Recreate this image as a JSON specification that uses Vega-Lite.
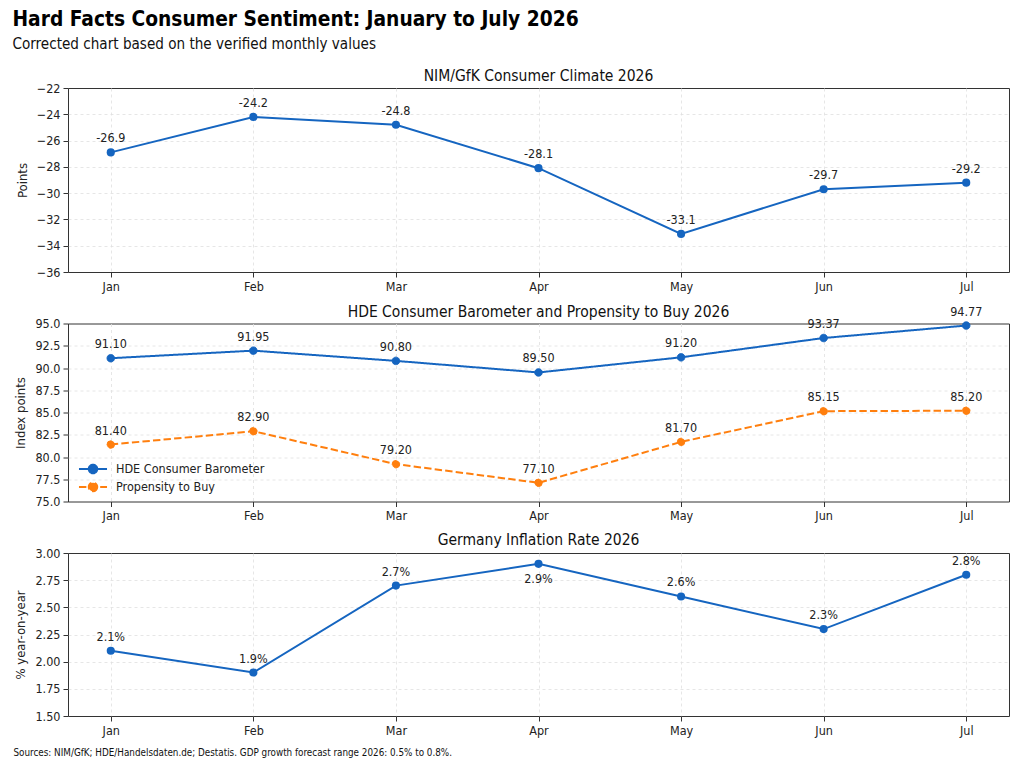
{
  "$schema": "https://vega.github.io/schema/vega-lite/v6.json",
  "background": "white",
  "padding": {"left": 12, "top": 9, "right": 10, "bottom": 5},
  "title": {
    "text": "Hard Facts Consumer Sentiment: January to July 2026",
    "subtitle": "Corrected chart based on the verified monthly values",
    "anchor": "start",
    "font": "DejaVu Sans Condensed",
    "fontSize": 20.75,
    "fontWeight": "bold",
    "color": "#000",
    "subtitleFont": "DejaVu Sans Condensed",
    "subtitleFontSize": 15.1,
    "subtitleColor": "#111",
    "subtitlePadding": 6,
    "offset": 15
  },
  "datasets": {
    "climate": [
      {"month": "Jan", "value": -26.9, "label": "-26.9"},
      {"month": "Feb", "value": -24.2, "label": "-24.2"},
      {"month": "Mar", "value": -24.8, "label": "-24.8"},
      {"month": "Apr", "value": -28.1, "label": "-28.1"},
      {"month": "May", "value": -33.1, "label": "-33.1"},
      {"month": "Jun", "value": -29.7, "label": "-29.7"},
      {"month": "Jul", "value": -29.2, "label": "-29.2"}
    ],
    "hde": [
      {"month": "Jan", "series": "HDE Consumer Barometer", "value": 91.10},
      {"month": "Feb", "series": "HDE Consumer Barometer", "value": 91.95},
      {"month": "Mar", "series": "HDE Consumer Barometer", "value": 90.80},
      {"month": "Apr", "series": "HDE Consumer Barometer", "value": 89.50},
      {"month": "May", "series": "HDE Consumer Barometer", "value": 91.20},
      {"month": "Jun", "series": "HDE Consumer Barometer", "value": 93.37},
      {"month": "Jul", "series": "HDE Consumer Barometer", "value": 94.77},
      {"month": "Jan", "series": "Propensity to Buy", "value": 81.40},
      {"month": "Feb", "series": "Propensity to Buy", "value": 82.90},
      {"month": "Mar", "series": "Propensity to Buy", "value": 79.20},
      {"month": "Apr", "series": "Propensity to Buy", "value": 77.10},
      {"month": "May", "series": "Propensity to Buy", "value": 81.70},
      {"month": "Jun", "series": "Propensity to Buy", "value": 85.15},
      {"month": "Jul", "series": "Propensity to Buy", "value": 85.20}
    ],
    "inflation": [
      {"month": "Jan", "value": 2.1, "label": "2.1%"},
      {"month": "Feb", "value": 1.9, "label": "1.9%"},
      {"month": "Mar", "value": 2.7, "label": "2.7%"},
      {"month": "Apr", "value": 2.9, "label": "2.9%"},
      {"month": "May", "value": 2.6, "label": "2.6%"},
      {"month": "Jun", "value": 2.3, "label": "2.3%"},
      {"month": "Jul", "value": 2.8, "label": "2.8%"}
    ]
  },
  "columns": 1,
  "bounds": "flush",
  "spacing": 51.5,
  "concat": [
    {
      "width": 941,
      "height": 184,
      "data": {"name": "climate"},
      "title": {"text": "NIM/GfK Consumer Climate 2026", "anchor": "middle", "dy": 8},
      "encoding": {
        "x": {
          "field": "month", "type": "ordinal",
          "sort": ["Jan", "Feb", "Mar", "Apr", "May", "Jun", "Jul"],
          "scale": {"type": "point", "padding": 0.3},
          "axis": {"title": null, "labelAngle": 0}
        },
        "y": {
          "field": "value", "type": "quantitative",
          "scale": {"domain": [-36, -22], "nice": false},
          "axis": {
            "title": "Points",
            "values": [-36, -34, -32, -30, -28, -26, -24, -22],
            "gridOpacity": {"condition": {"test": "datum.value <= -36 || datum.value >= -22", "value": 0}, "value": 1}
          }
        }
      },
      "layer": [
        {"mark": {"type": "line", "color": "#1565c0", "strokeWidth": 2}, "encoding": {}},
        {"mark": {"type": "circle", "color": "#1565c0", "size": 66, "opacity": 1}},
        {
          "mark": {"type": "text", "dy": -14, "fontSize": 12.5, "color": "#222"},
          "encoding": {"text": {"field": "label"}}
        }
      ]
    },
    {
      "width": 941,
      "height": 178,
      "data": {"name": "hde"},
      "title": {"text": "HDE Consumer Barometer and Propensity to Buy 2026", "anchor": "middle", "dy": 21},
      "encoding": {
        "x": {
          "field": "month", "type": "ordinal",
          "sort": ["Jan", "Feb", "Mar", "Apr", "May", "Jun", "Jul"],
          "scale": {"type": "point", "padding": 0.3},
          "axis": {"title": null, "labelAngle": 0}
        },
        "y": {
          "field": "value", "type": "quantitative",
          "scale": {"domain": [75, 95], "nice": false},
          "axis": {
            "title": "Index points", "format": ".1f",
            "values": [75, 77.5, 80, 82.5, 85, 87.5, 90, 92.5, 95],
            "gridOpacity": {"condition": {"test": "datum.value <= 75 || datum.value >= 95", "value": 0}, "value": 1}
          }
        }
      },
      "layer": [
        {
          "mark": {"type": "point", "shape": "circle", "size": 56, "strokeWidth": 1, "opacity": 1},
          "encoding": {
            "fill": {
              "field": "series", "type": "nominal", "title": null,
              "scale": {"domain": ["HDE Consumer Barometer", "Propensity to Buy"], "range": ["#1565c0", "#ff7f0e"]},
              "legend": {
                "orient": "none", "legendX": 15.5, "legendY": 371.5,
                "symbolType": "M-1.65,0H1.65M0.5,0A0.5,0.5 0 1,1 -0.5,0A0.5,0.5 0 1,1 0.5,0Z",
                "symbolSize": 289, "symbolStrokeWidth": 2, "labelOffset": 13.5,
                "labelFontSize": 12.5, "labelColor": "#222", "rowPadding": 0, "padding": 0
              }
            },
            "stroke": {
              "field": "series", "type": "nominal", "title": null,
              "scale": {"domain": ["HDE Consumer Barometer", "Propensity to Buy"], "range": ["#1565c0", "#ff7f0e"]},
              "legend": {
                "orient": "none", "legendX": 15.5, "legendY": 371.5,
                "symbolType": "M-1.65,0H1.65M0.5,0A0.5,0.5 0 1,1 -0.5,0A0.5,0.5 0 1,1 0.5,0Z",
                "symbolSize": 289, "symbolStrokeWidth": 2, "labelOffset": 13.5,
                "labelFontSize": 12.5, "labelColor": "#222", "rowPadding": 0, "padding": 0
              }
            },
            "strokeDash": {
              "field": "series", "type": "nominal", "title": null,
              "scale": {"domain": ["HDE Consumer Barometer", "Propensity to Buy"], "range": [[1, 0], [7.4, 3.2]]},
              "legend": {
                "orient": "none", "legendX": 15.5, "legendY": 371.5,
                "symbolType": "M-1.65,0H1.65M0.5,0A0.5,0.5 0 1,1 -0.5,0A0.5,0.5 0 1,1 0.5,0Z",
                "symbolSize": 289, "symbolStrokeWidth": 2, "labelOffset": 13.5,
                "labelFontSize": 12.5, "labelColor": "#222", "rowPadding": 0, "padding": 0
              }
            }
          }
        },
        {
          "mark": {"type": "line", "strokeWidth": 2},
          "encoding": {
            "stroke": {"field": "series", "type": "nominal", "title": null},
            "strokeDash": {"field": "series", "type": "nominal", "title": null}
          }
        },
        {
          "mark": {"type": "text", "dy": -14, "fontSize": 12.5, "color": "#222"},
          "encoding": {"text": {"field": "value", "type": "quantitative", "format": ".2f"}}
        }
      ]
    },
    {
      "width": 941,
      "height": 163,
      "data": {"name": "inflation"},
      "title": {"text": "Germany Inflation Rate 2026", "anchor": "middle", "dy": 7},
      "encoding": {
        "x": {
          "field": "month", "type": "ordinal",
          "sort": ["Jan", "Feb", "Mar", "Apr", "May", "Jun", "Jul"],
          "scale": {"type": "point", "padding": 0.3},
          "axis": {
            "title": "Sources: NIM/GfK; HDE/Handelsdaten.de; Destatis. GDP growth forecast range 2026: 0.5% to 0.8%.",
            "labelAngle": 0,
            "titleAnchor": "start", "titleAlign": "left", "titleBaseline": "middle",
            "titleX": -55, "titleY": 36,
            "titleFontSize": 9.8, "titleColor": "#111"
          }
        },
        "y": {
          "field": "value", "type": "quantitative",
          "scale": {"domain": [1.5, 3.0], "nice": false},
          "axis": {
            "title": "% year-on-year", "format": ".2f",
            "values": [1.5, 1.75, 2.0, 2.25, 2.5, 2.75, 3.0],
            "gridOpacity": {"condition": {"test": "datum.value <= 1.5 || datum.value >= 3", "value": 0}, "value": 1}
          }
        }
      },
      "layer": [
        {"mark": {"type": "line", "color": "#1565c0", "strokeWidth": 2}, "encoding": {}},
        {"mark": {"type": "circle", "color": "#1565c0", "size": 66, "opacity": 1}},
        {
          "transform": [{"filter": "datum.month != 'Apr'"}],
          "mark": {"type": "text", "dy": -14, "fontSize": 12.5, "color": "#222"},
          "encoding": {"text": {"field": "label"}}
        },
        {
          "transform": [{"filter": "datum.month == 'Apr'"}],
          "mark": {"type": "text", "dy": 15, "fontSize": 12.5, "color": "#222"},
          "encoding": {"text": {"field": "label"}}
        }
      ]
    }
  ],
  "config": {
    "font": "DejaVu Sans Condensed",
    "view": {"stroke": "#333", "strokeWidth": 1},
    "axis": {
      "domain": false,
      "grid": true,
      "gridColor": "#e0e0e0",
      "gridDash": [3, 3],
      "gridWidth": 0.8,
      "tickColor": "#333",
      "tickSize": 5,
      "labelFontSize": 12.5,
      "labelColor": "#222",
      "labelPadding": 3,
      "titleFontSize": 13,
      "titleFontWeight": "normal",
      "titleColor": "#222",
      "titlePadding": 7
    },
    "title": {"fontSize": 15.5, "fontWeight": "normal", "color": "#111", "offset": 6}
  }
}
